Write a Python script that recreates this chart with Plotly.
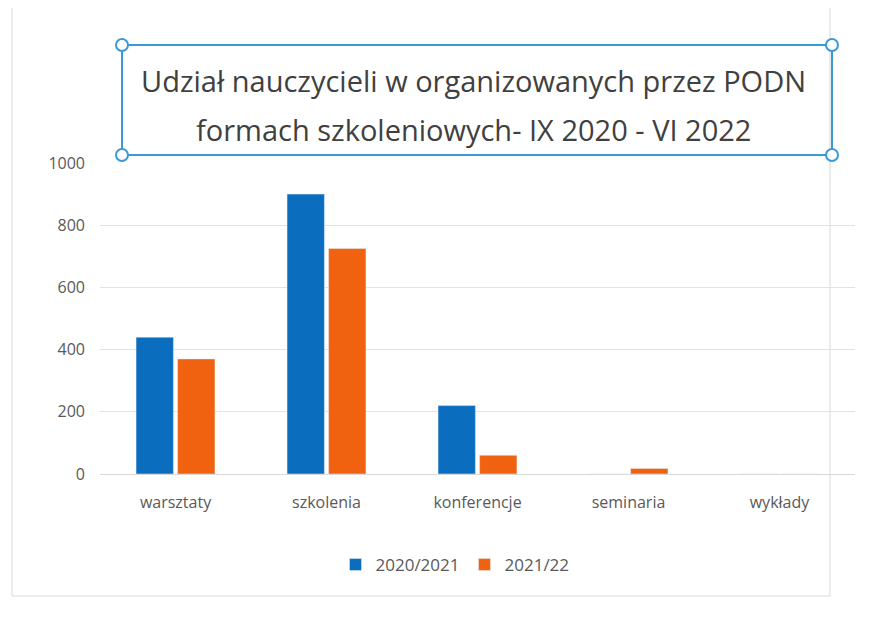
import plotly.graph_objects as go

categories = ["warsztaty", "szkolenia", "konferencje", "seminaria", "wykłady"]
series_2020 = [440, 900, 220, 0, 0]
series_2021 = [370, 725, 60, 18, 0]
series_names = ["2020/2021", "2021/22"]
y_ticks = [0, 200, 400, 600, 800, 1000]
title_lines = ["Udział nauczycieli w organizowanych przez PODN",
               "formach szkoleniowych- IX 2020 - VI 2022"]

BLUE = "#0A6DBE"
ORANGE = "#F0620F"
FONT = "Open Sans, Noto Sans, sans-serif"

fig = go.Figure()
fig.add_trace(go.Bar(x=categories, y=series_2020, name=series_names[0], marker_color=BLUE))
fig.add_trace(go.Bar(x=categories, y=series_2021, name=series_names[1], marker_color=ORANGE))

W, H = 879, 622
OFF = 8  # page body margin
# plot area in page pixels
PL, PR, PT, PB = 100, 855, 163, 474
L, R, T, B = PL - OFF, W - (PR - OFF), PT - OFF, H - (PB - OFF)
PW, PH = W - L - R, H - T - B


def fx(x):  # page x -> paper x
    return (x - PL) / (PR - PL)


def fy(y):  # page y -> paper y
    return (PB - y) / (PB - PT)


BOX = "#3A9AD9"
shapes = [
    dict(type="rect", xref="paper", yref="paper", x0=fx(12), x1=fx(830), y0=fy(596), y1=fy(3),
         line=dict(color="#D9D9D9", width=1), fillcolor="rgba(0,0,0,0)", layer="below"),
    dict(type="rect", xref="paper", yref="paper", x0=fx(122), x1=fx(832), y0=fy(155), y1=fy(45),
         line=dict(color=BOX, width=2), fillcolor="rgba(0,0,0,0)"),
]
for hx, hy in [(122, 45), (832, 45), (122, 155), (832, 155)]:
    dx = 6 / (PR - PL)
    dy = 6 / (PB - PT)
    shapes.append(dict(type="circle", xref="paper", yref="paper", x0=fx(hx) - dx, x1=fx(hx) + dx,
                       y0=fy(hy) - dy, y1=fy(hy) + dy, line=dict(color=BOX, width=2), fillcolor="white"))

annotations = []
for i, line in enumerate(title_lines):
    annotations.append(dict(text=line, xref="paper", yref="paper", x=fx(473), y=fy(80 + 50 * i),
                            xanchor="center", yanchor="middle", showarrow=False,
                            font=dict(family=FONT, size=29, color="#404040")))

fig.update_layout(
    width=W, height=H,
    margin=dict(l=L, r=R, t=T, b=B),
    paper_bgcolor="white", plot_bgcolor="white",
    barmode="group", bargap=0.45, bargroupgap=0.1,
    font=dict(family=FONT, size=16, color="#595959"),
    xaxis=dict(showgrid=False, showline=True, linecolor="#D9D9D9", linewidth=1, ticks="",
               tickfont=dict(size=16, color="#595959"), ticklabelstandoff=14),
    yaxis=dict(range=[0, 1000], tickvals=y_ticks, showgrid=True, gridcolor="#E3E3E3", gridwidth=1,
               zeroline=False, showline=False, ticks="", tickfont=dict(size=16, color="#595959"),
               ticklabelstandoff=14),
    legend=dict(orientation="h", x=fx(455), xanchor="center", y=fy(565),
                yanchor="middle", font=dict(size=17, color="#595959"), itemwidth=30),
    shapes=shapes,
    annotations=annotations,
)

fig.write_html("out.html")
